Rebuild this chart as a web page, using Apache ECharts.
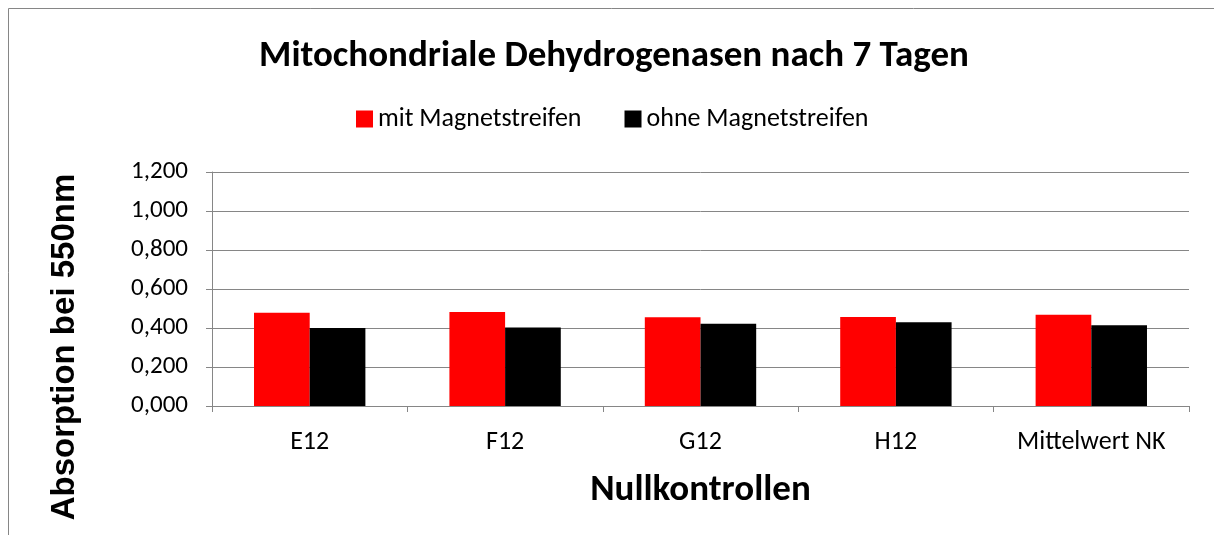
<!DOCTYPE html>
<html>
<head>
<meta charset="utf-8">
<script src="https://cdn.jsdelivr.net/npm/echarts@6/dist/echarts.min.js"></script>
<style>
html,body{margin:0;padding:0;background:#fff;}
#c{width:1214px;height:535px;}
</style>
</head>
<body>
<div id="c"></div>
<script>
const categories = ['E12', 'F12', 'G12', 'H12', 'Mittelwert NK'];
const mitMagnetstreifen = [0.478, 0.482, 0.455, 0.456, 0.468];
const ohneMagnetstreifen = [0.400, 0.402, 0.422, 0.429, 0.414];
const seriesNames = ['mit Magnetstreifen', 'ohne Magnetstreifen'];
const titleText = 'Mitochondriale Dehydrogenasen nach 7 Tagen';
const xAxisTitle = 'Nullkontrollen';
const yAxisTitle = 'Absorption bei 550nm';

const calibriLike = 'Carlito, Lato, "Noto Sans", sans-serif';
const gray = '#868686';

const chart = echarts.init(document.getElementById('c'), null, {renderer: 'canvas'});
chart.setOption({
  animation: false,
  backgroundColor: '#fff',
  title: {
    text: titleText,
    left: 609,
    textAlign: 'center',
    top: 33,
    textStyle: {fontFamily: calibriLike, fontWeight: 'bold', fontSize: 37, color: '#000'}
  },
  legend: {
    data: seriesNames,
    top: 101,
    left: 351,
    itemWidth: 17,
    itemHeight: 17,
    itemGap: 43,
    icon: 'rect',
    textStyle: {fontFamily: calibriLike, fontSize: 26, color: '#000'}
  },
  grid: {left: 212, right: 25, top: 172, bottom: 129},
  xAxis: {
    type: 'category',
    data: categories,
    name: xAxisTitle,
    nameLocation: 'middle',
    nameGap: 66,
    nameTextStyle: {fontFamily: calibriLike, fontWeight: 'bold', fontSize: 37, color: '#000'},
    axisLine: {lineStyle: {color: gray, width: 1}},
    axisTick: {show: true, alignWithLabel: false, length: 6, lineStyle: {color: gray}},
    axisLabel: {margin: 23, fontFamily: calibriLike, fontSize: 26, color: '#000'}
  },
  yAxis: {
    type: 'value',
    min: 0,
    max: 1.2,
    interval: 0.2,
    axisLine: {show: true, lineStyle: {color: gray, width: 1}},
    axisTick: {show: true, length: 6, lineStyle: {color: gray}},
    splitLine: {show: true, lineStyle: {color: gray, width: 1}},
    axisLabel: {
      margin: 24,
      fontFamily: calibriLike,
      fontSize: 25,
      color: '#000',
      formatter: v => v.toFixed(3).replace('.', ',')
    }
  },
  graphic: [
    {
      type: 'rect',
      shape: {x: 8.5, y: 8.5, width: 1400, height: 1000},
      style: {fill: 'none', stroke: gray, lineWidth: 1},
      silent: true
    },
    {
      type: 'text',
      x: 65,
      y: 347,
      rotation: Math.PI / 2,
      style: {
        text: yAxisTitle,
        font: 'bold 33px "Liberation Sans", Arial, sans-serif',
        fill: '#000',
        textAlign: 'center',
        textVerticalAlign: 'middle'
      }
    }
  ],
  series: [
    {
      name: seriesNames[0],
      type: 'bar',
      data: mitMagnetstreifen,
      barGap: '0%',
      barCategoryGap: '43%',
      itemStyle: {color: '#FF0000'}
    },
    {
      name: seriesNames[1],
      type: 'bar',
      data: ohneMagnetstreifen,
      barGap: '0%',
      barCategoryGap: '43%',
      itemStyle: {color: '#000000'}
    }
  ]
});
</script>
</body>
</html>
